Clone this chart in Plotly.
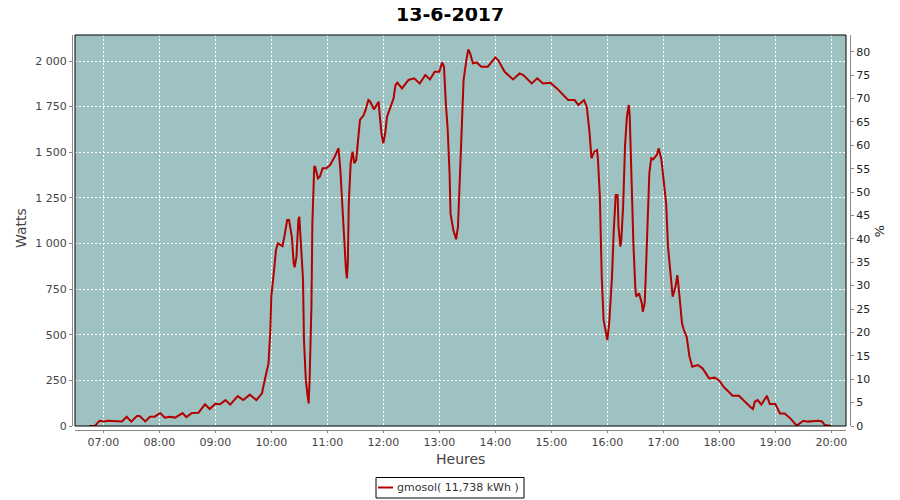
import plotly.graph_objects as go

# ---- data ----
times = ["06:45","06:51","06:56","07:01","07:05","07:16","07:20","07:25","07:30","07:36",
         "07:39","07:45","07:50","07:55","08:01","08:06","08:11","08:17","08:25","08:29",
         "08:35","08:42","08:49","08:54","09:00","09:05","09:11","09:16","09:24","09:30",
         "09:37","09:44","09:50","09:53","09:57","09:59","10:00","10:03","10:05","10:07",
         "10:12","10:14","10:17","10:19","10:22","10:24","10:25","10:27","10:29","10:30",
         "10:31","10:34","10:35","10:37","10:39","10:40","10:41","10:43","10:44","10:46",
         "10:47","10:50","10:52","10:55","10:59","11:03","11:08","11:12","11:14","11:16",
         "11:18","11:20","11:21","11:22","11:23","11:25","11:27","11:29","11:31","11:33",
         "11:35","11:39","11:41","11:44","11:46","11:50","11:55","11:56","11:58","12:00",
         "12:02","12:04","12:07","12:11","12:13","12:15","12:20","12:27","12:33","12:39",
         "12:45","12:50","12:55","13:00","13:03","13:05","13:07","13:09","13:11","13:12",
         "13:15","13:18","13:20","13:22","13:24","13:26","13:29","13:31","13:33","13:36",
         "13:40","13:45","13:52","14:00","14:03","14:10","14:19","14:26","14:30","14:39",
         "14:45","14:51","14:59","15:06","15:18","15:25","15:29","15:35","15:38","15:41",
         "15:43","15:46","15:49","15:50","15:52","15:54","15:56","15:59","16:00","16:02",
         "16:05","16:07","16:09","16:11","16:12","16:14","16:15","16:17","16:19","16:21",
         "16:23","16:24","16:26","16:28","16:30","16:31","16:34","16:37","16:38","16:40",
         "16:41","16:43","16:45","16:47","16:49","16:53","16:55","16:58","17:00","17:03",
         "17:05","17:08","17:10","17:13","17:15","17:16","17:18","17:20","17:22","17:25",
         "17:28","17:31","17:37","17:42","17:49","17:55","18:00","18:05","18:10","18:14",
         "18:21","18:26","18:33","18:36","18:38","18:41","18:45","18:51","18:54","19:00",
         "19:05","19:10","19:16","19:23","19:30","19:35","19:41","19:46","19:50","19:53",
         "20:00"]
watts = [0,0,29,25,29,25,25,51,24,55,
         55,25,51,51,71,46,51,46,71,49,
         71,73,119,93,122,119,142,117,164,142,
         172,142,179,252,343,526,709,855,964,1001,
         986,1037,1129,1129,1037,891,870,928,1129,1147,
         1074,800,471,252,161,124,252,654,1111,1421,
         1421,1357,1366,1412,1412,1430,1476,1522,1403,1220,
         983,855,809,891,1220,1439,1503,1439,1458,1549,
         1677,1704,1732,1786,1777,1735,1777,1713,1604,1549,
         1604,1695,1741,1795,1868,1881,1850,1896,1905,1877,
         1923,1899,1941,1941,1992,1969,1768,1622,1385,1165,
         1074,1023,1092,1348,1622,1896,2005,2064,2042,1987,
         1992,1969,1969,2020,2005,1941,1899,1932,1923,1877,
         1905,1877,1881,1850,1786,1786,1759,1786,1750,1604,
         1467,1503,1512,1458,1256,818,581,481,471,563,
         818,1083,1266,1266,1092,983,1019,1211,1540,1695,
         1759,1695,1330,992,755,709,727,672,626,672,
         800,1111,1385,1467,1461,1485,1522,1458,1348,1220,
         983,818,709,763,827,782,672,563,526,489,
         380,325,334,316,261,265,248,212,188,166,
         166,139,106,93,133,142,117,166,120,120,
         69,69,42,2,29,24,25,29,25,5,
         0]

day = "2017-06-13"
title_text = "13-6-2017"
series_name = "gmosol( 11,738 kWh )"
hour_ticks = ["07:00","08:00","09:00","10:00","11:00","12:00","13:00",
              "14:00","15:00","16:00","17:00","18:00","19:00","20:00"]
watt_ticks = [0, 250, 500, 750, 1000, 1250, 1500, 1750, 2000]
watt_labels = ["0", "250", "500", "750", "1 000", "1 250", "1 500", "1 750", "2 000"]
pct_ticks = list(range(0, 85, 5))

x_range = [day + " 06:29:42", day + " 20:15:42"]
y_range = [0, 2142.5]
y2_range = [0, 83.57]

FONT = "DejaVu Sans"
LINE_RED = "#B30000"

fig = go.Figure()
fig.add_trace(go.Scatter(
    x=[day + " " + t for t in times], y=watts, mode="lines",
    line=dict(color=LINE_RED, width=2), name=series_name, showlegend=False,
    hoverinfo="x+y"))
fig.add_trace(go.Scatter(x=[None], y=[None], yaxis="y2", showlegend=False,
                         hoverinfo="skip"))

# page offset of the figure inside the browser (body margin)
OFF = 8
W, H = 892, 492
# target page-pixel geometry
PAGE_L, PAGE_R, PAGE_T, PAGE_B = 72, 850, 35, 430
ML = PAGE_L - OFF
MR = (W + OFF) - PAGE_R
MT = PAGE_T - OFF
MB = (H + OFF) - PAGE_B
PW = PAGE_R - PAGE_L
PH = PAGE_B - PAGE_T
def px(xp): return (xp - PAGE_L) / PW
def py(yp): return (PAGE_B - yp) / PH

fig.update_layout(
    template="none",
    width=W, height=H,
    margin=dict(l=ML, r=MR, t=MT, b=MB, pad=0),
    paper_bgcolor="white",
    plot_bgcolor="#9EC2C1",
    font=dict(family=FONT, size=11, color="#444444"),
    xaxis=dict(
        domain=[px(75), px(846)], anchor="free", position=0,
        type="date", range=x_range,
        tickvals=[day + " " + t for t in hour_ticks], ticktext=hour_ticks,
        showgrid=True, gridcolor="white", gridwidth=1, griddash="2px,2px",
        showline=True, linecolor="#888888", linewidth=1,
        ticks="outside", ticklen=2, tickcolor="#888888",
        tickfont=dict(family=FONT, size=11, color="#444444"),
        zeroline=False, automargin=False, fixedrange=True),
    yaxis=dict(
        domain=[py(426), 1], anchor="free", position=0,
        range=y_range, tickvals=watt_ticks, ticktext=watt_labels,
        showgrid=True, gridcolor="white", gridwidth=1, griddash="2px,2px",
        showline=True, linecolor="#888888", linewidth=1,
        ticks="outside", ticklen=3, tickcolor="#888888",
        tickfont=dict(family=FONT, size=11, color="#444444"),
        zeroline=False, automargin=False, fixedrange=True),
    yaxis2=dict(
        domain=[py(426), 1], anchor="free", position=1, overlaying="y", side="right",
        range=y2_range, tickvals=pct_ticks,
        showgrid=False, showline=True, linecolor="#888888", linewidth=1,
        ticks="outside", ticklen=3, tickcolor="#888888",
        tickfont=dict(family=FONT, size=11, color="#222222"),
        zeroline=False, automargin=False, fixedrange=True),
    showlegend=False,
)

# plot-area border
fig.add_shape(type="rect", xref="x domain", yref="y domain", x0=0, x1=1, y0=0, y1=1,
              line=dict(color="black", width=1), layer="above")

def label(text, xp, yp, size, color, angle=0, bold=False, xanchor="center"):
    fig.add_annotation(text=("<b>%s</b>" % text) if bold else text,
                       xref="paper", yref="paper", x=px(xp), y=py(yp),
                       xanchor=xanchor, yanchor="middle", textangle=angle,
                       showarrow=False, borderpad=0,
                       font=dict(family=FONT, size=size, color=color))

# title
label(title_text, 450, 14.5, 19, "black", bold=True)
# axis titles
label("Watts", 21, 228, 14, "#444444", angle=-90)
label("Heures", 460, 459, 14, "#444444")
label("%", 880, 231, 13, "#222222", angle=90)

# legend box (manual)
fig.add_shape(type="rect", xref="paper", yref="paper",
              x0=px(376), x1=px(524), y0=py(498), y1=py(477.5),
              line=dict(color="black", width=1), fillcolor="white")
fig.add_shape(type="line", xref="paper", yref="paper",
              x0=px(378), x1=px(393), y0=py(487.5), y1=py(487.5),
              line=dict(color=LINE_RED, width=2))
label(series_name, 396, 487.5, 11, "#333333", xanchor="left")

fig.write_html("out.html")
